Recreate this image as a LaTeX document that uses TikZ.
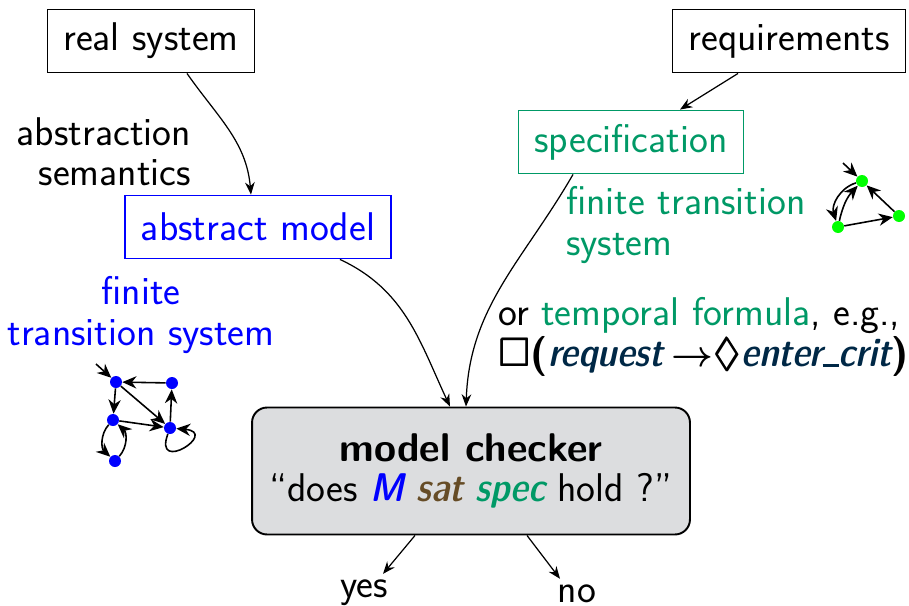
\documentclass[tikz,border=0pt]{standalone}
\usepackage{amssymb}
\usepackage{bm}
\renewcommand{\familydefault}{\sfdefault}
\usetikzlibrary{arrows.meta}
\definecolor{specgreen}{RGB}{0,153,102}
\definecolor{satbrown}{RGB}{102,76,38}
\definecolor{formblue}{RGB}{0,40,70}
\definecolor{checkgray}{RGB}{220,221,223}
\newcommand{\emphit}[1]{{\fontseries{sbc}\slshape #1}}
\newcommand{\uscore}{\rule[-0.03em]{0.4em}{0.09em}}
\tikzset{frame/.style = {rectangle, draw=black, line width=0.8pt, inner xsep=0.32cm,
    inner ysep=0.1cm, minimum height=1.27cm},
  checker/.style = {rectangle, rounded corners=0.3cm, draw=black, line width=1.1pt,
    fill=checkgray, minimum width=8.76cm, minimum height=2.54cm, align=center},
  flow/.style = {-{Stealth[length=7pt,width=5.5pt]}, line width=0.7pt},
  state/.style = {circle, inner sep=0pt, minimum size=0.24cm},
  edge/.style = {-{Stealth[length=8pt,width=7pt]}, line width=0.9pt}}

\begin{document}
\begin{tikzpicture}[x=0.02cm, y=-0.02cm, font=\fontsize{22.8}{23}\selectfont]
  \useasboundingbox (0,0) rectangle (909,605);

  \node[frame] (real) at (151,41) {real system};
  \node[frame] (req) at (789,41) {requirements};
  \node[frame, draw=specgreen, text=specgreen] (spec) at (631,142) {specification};
  \node[frame, draw=blue, text=blue] (abs) at (258,227) {abstract model};

  \node[align=right, anchor=east] (absLbl) at (197,152) {abstraction\\semantics};
  \node[align=center, text=blue] (ftsM) at (141,315) {finite\\transition system};
  \node[align=left, anchor=west, text=specgreen] (ftsS) at (560,225) {finite transition\\system};
  \node[align=left, anchor=west] (ltl) at (492,337)
    {or \textcolor{specgreen}{temporal formula}, e.g.,\\
     $\bm{\Box}$\textbf{(}\textcolor{formblue}{\emphit{request}}\kern0.2em$\bm{\rightarrow}$%
     $\bm{\Diamond}$\textcolor{formblue}{\emphit{enter\uscore crit}}\textbf{)}};

  \node[checker] (mc) at (471,471) {\textbf{model checker}\\
    ``does \textcolor{blue}{\emphit{M}} \textcolor{satbrown}{\emphit{sat}}
    \textcolor{specgreen}{\emphit{spec}} hold ?''};
  \node (yes) at (364,593) {yes};
  \node (no) at (577,594) {no};

  \draw[flow] ([xshift=0.72cm]real.south) to[out=-55, in=95] ([xshift=-0.14cm]abs.north);
  \draw[flow] ([xshift=-1.02cm]req.south) -- ([xshift=0.98cm]spec.north);
  \draw[flow] ([xshift=1.64cm]abs.south) to[out=-25, in=115] ([xshift=-0.42cm]mc.north);
  \draw[flow] ([xshift=-1.16cm]spec.south) to[out=-120, in=88] ([xshift=-0.1cm]mc.north);
  \draw[flow] ([xshift=-1.12cm]mc.south) -- ([xshift=0.38cm]yes.north);
  \draw[flow] ([xshift=1.12cm]mc.south) -- ([xshift=-0.34cm]no.north);

  % small transition system of the model
  \node[state, fill=blue] (m1) at (116,382) {};
  \node[state, fill=blue] (m2) at (172,383) {};
  \node[state, fill=blue] (m3) at (113,420) {};
  \node[state, fill=blue] (m4) at (170,428) {};
  \node[state, fill=blue] (m5) at (115,461) {};
  \coordinate (mIn) at (96,364);
  \draw[edge] (mIn) -- (m1);
  \draw[edge] (m2) -- (m1);
  \draw[edge] (m1) -- (m3);
  \draw[edge] (m1) -- (m4);
  \draw[edge] (m3) -- (m4);
  \draw[edge] (m4) -- (m2);
  \draw[edge] (m3) to[bend right=45] (m5);
  \draw[edge] (m5) to[bend right=45] (m3);
  \draw[edge] (m4) to[out=-110, in=-5, looseness=11] (m4);

  % small transition system of the specification
  \node[state, fill=green] (s1) at (862,181) {};
  \node[state, fill=green] (s2) at (838,227) {};
  \node[state, fill=green] (s3) at (899,216) {};
  \coordinate (sIn) at (843,163);
  \draw[edge] (sIn) -- (s1);
  \draw[edge] (s1) to[bend right=45] (s2);
  \draw[edge] (s2) to[bend left=15] (s1);
  \draw[edge] (s2) -- (s3);
  \draw[edge] (s3) -- (s1);
\end{tikzpicture}
\end{document}
